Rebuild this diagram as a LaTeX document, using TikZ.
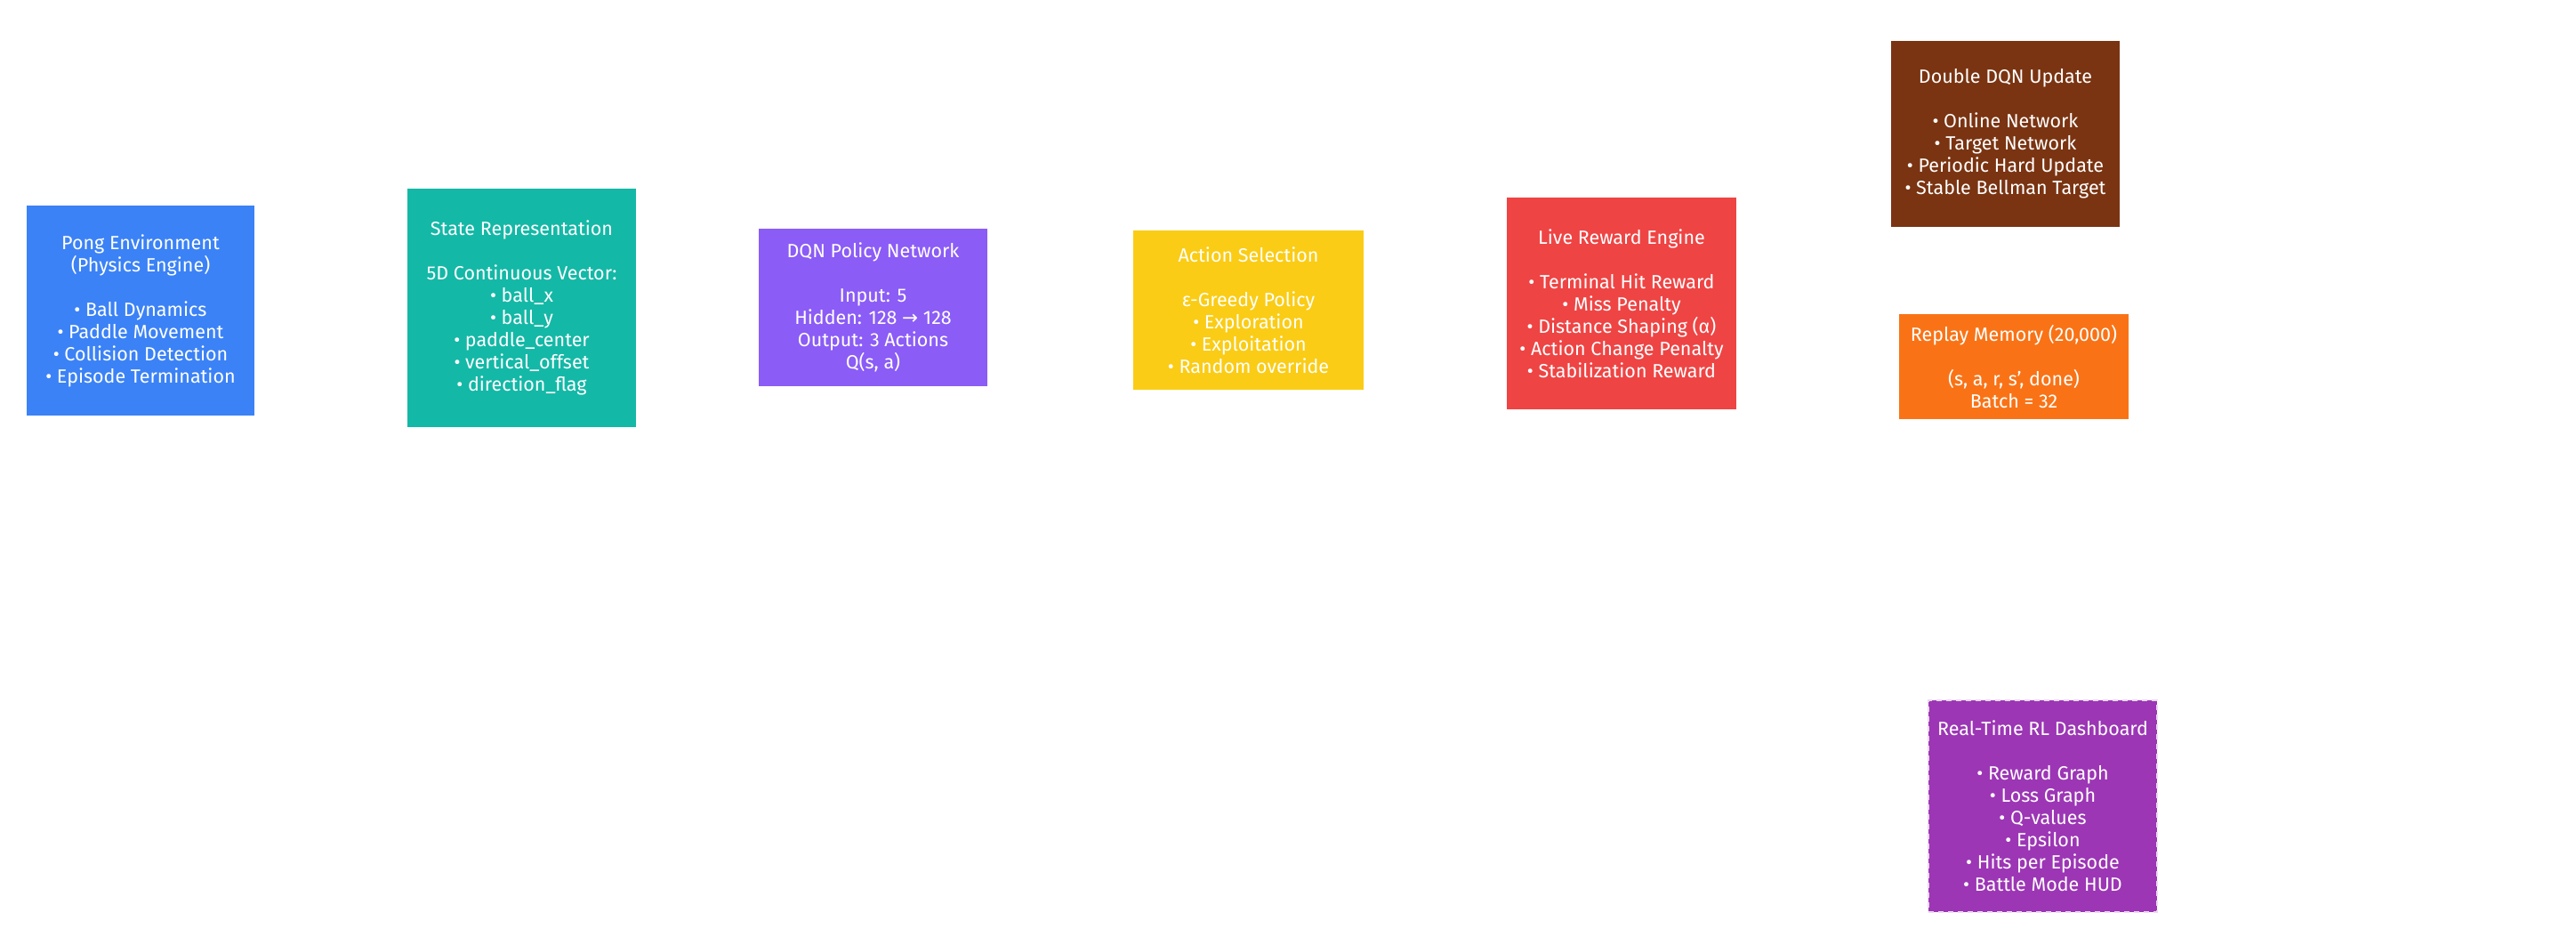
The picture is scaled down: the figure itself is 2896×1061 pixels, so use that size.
\documentclass[tikz,border=0pt]{standalone}
\usepackage{fontspec}
\setmainfont{Fira Sans}
\newfontfamily\symfont{DejaVu Sans}
\definecolor{cblue}{HTML}{3B82F6}
\definecolor{cteal}{HTML}{14B8A6}
\definecolor{cviolet}{HTML}{8B5CF6}
\definecolor{cyellow}{HTML}{FACC15}
\definecolor{cred}{HTML}{EF4444}
\definecolor{cbrown}{HTML}{7A3412}
\definecolor{corange}{HTML}{F97316}
\definecolor{cpurple}{HTML}{9C36B5}
\begin{document}
\begin{tikzpicture}[x=1pt,y=-1pt,
  card/.style={rectangle, draw=none, text=white, align=center, inner sep=0pt,
    font=\fontsize{21.5}{25}\selectfont},
  dashcard/.style={card, draw=white!80!cpurple, dashed, line width=1.5pt, dash pattern=on 6pt off 5pt}]
\useasboundingbox[fill=white] (0,0) rectangle (2896,1061);

\node[card, fill=cblue, minimum width=256pt, minimum height=236pt] (env) at (158,349)
  {Pong Environment\\(Physics Engine)\\[25pt]• Ball Dynamics\\• Paddle Movement\\• Collision Detection\\• Episode Termination};

\node[card, fill=cteal, minimum width=257pt, minimum height=268pt] (state) at (586.5,346)
  {State Representation\\[25pt]5D Continuous Vector:\\• ball\_x\\• ball\_y\\• paddle\_center\\• vertical\_offset\\• direction\_flag};

\node[card, fill=cviolet, minimum width=257pt, minimum height=177pt] (dqn) at (981.5,345.5)
  {DQN Policy Network\\[25pt]Input: 5\\Hidden: 128 {\symfont →} 128\\Output: 3 Actions\\Q(s, a)};

\node[card, fill=cyellow, minimum width=259pt, minimum height=179pt] (act) at (1403.5,348.5)
  {Action Selection\\[25pt]ε-Greedy Policy\\• Exploration\\• Exploitation\\• Random override};

\node[card, fill=cred, minimum width=258pt, minimum height=238pt] (rew) at (1823,341)
  {Live Reward Engine\\[25pt]• Terminal Hit Reward\\• Miss Penalty\\• Distance Shaping (α)\\• Action Change Penalty\\• Stabilization Reward};

\node[card, fill=cbrown, minimum width=257pt, minimum height=209pt] (ddqn) at (2254.5,150.5)
  {Double DQN Update\\[25pt]• Online Network\\• Target Network\\• Periodic Hard Update\\• Stable Bellman Target};

\node[card, fill=corange, minimum width=258pt, minimum height=118pt] (mem) at (2264,412)
  {Replay Memory (20,000)\\[25pt](s, a, r, s', done)\\Batch = 32};

\node[dashcard, fill=cpurple, minimum width=257pt, minimum height=238pt] (dash) at (2296.5,906)
  {Real-Time RL Dashboard\\[25pt]• Reward Graph\\• Loss Graph\\• Q-values\\• Epsilon\\• Hits per Episode\\• Battle Mode HUD};
\end{tikzpicture}
\end{document}
